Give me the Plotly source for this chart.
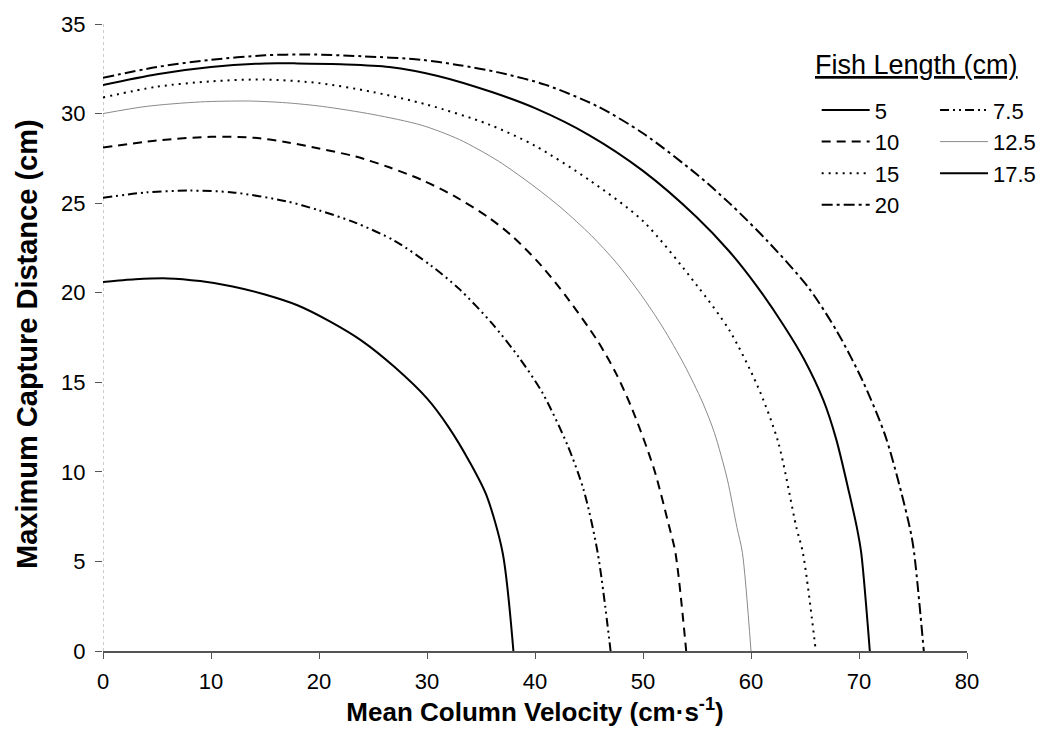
import plotly.graph_objects as go

# Fish length series (cm) -> curve points (velocity cm/s, max capture distance cm)
x_5 = [0, 3, 6, 9, 12, 15, 18, 21, 24, 27, 30, 32, 34, 35.5, 37, 38]
y_5 = [20.6, 20.75, 20.8, 20.65, 20.35, 19.9, 19.3, 18.4, 17.3, 15.85, 14.1, 12.5, 10.5, 8.7, 5.5, 0]

x_7_5 = [0, 4, 8, 12, 17, 20, 23.4, 27, 30.4, 33, 36, 38.5, 40.7, 43, 44.5, 45.8, 47]
y_7_5 = [25.3, 25.6, 25.7, 25.6, 25.1, 24.6, 23.9, 22.9, 21.5, 20.2, 18.3, 16.4, 14.4, 11.5, 9.0, 5.5, 0]

x_10 = [0, 5, 10, 14, 17, 20, 23.4, 26.5, 29.5, 32.5, 35.7, 38, 40.6, 43, 45.8, 47.5, 49, 51, 52.4, 53, 54]
y_10 = [28.1, 28.5, 28.7, 28.65, 28.4, 28.05, 27.6, 27.0, 26.3, 25.4, 24.2, 23.1, 21.5, 19.7, 17.3, 15.5, 13.5, 10.2, 7.0, 5.5, 0]

x_12_5 = [0, 4, 9, 13.5, 17, 20.3, 25, 29.5, 33, 36.6, 40, 42.5, 45.2, 47.5, 49.8, 51.8, 53.8, 55.5, 56.6, 57.8, 58.7, 59.2, 60]
y_12_5 = [30.0, 30.4, 30.65, 30.7, 30.6, 30.4, 29.95, 29.35, 28.55, 27.35, 25.9, 24.7, 23.2, 21.7, 19.9, 18.1, 16.0, 13.9, 12.2, 9.6, 6.9, 5.5, 0]

x_15 = [0, 5, 10, 15, 20, 25, 30, 35.7, 40, 45, 50, 55, 58, 60.6, 62.5, 64.2, 64.8, 66]
y_15 = [30.9, 31.5, 31.8, 31.9, 31.7, 31.2, 30.5, 29.4, 28.2, 26.3, 24.0, 20.4, 17.9, 14.8, 11.7, 6.9, 5.5, 0]

x_17_5 = [0, 5, 10, 15, 18, 22, 26.5, 31, 36, 40, 45, 50, 55, 58, 60.5, 63, 64.9, 66.7, 67.9, 69.1, 69.8, 70.2, 71]
y_17_5 = [31.6, 32.2, 32.6, 32.8, 32.8, 32.75, 32.6, 32.1, 31.2, 30.3, 28.8, 26.8, 24.2, 22.3, 20.4, 18.2, 16.3, 14.0, 11.8, 8.8, 6.9, 5.5, 0]

x_20 = [0, 5, 10, 15, 19, 24, 29.5, 33, 36.6, 41, 45.8, 50, 55, 58, 61.5, 65.3, 68, 70.4, 72.5, 74.7, 75.1, 76]
y_20 = [32.0, 32.6, 33.0, 33.25, 33.3, 33.2, 33.0, 32.7, 32.3, 31.6, 30.4, 28.9, 26.6, 25.0, 22.9, 20.3, 17.8, 15.0, 11.9, 6.9, 5.5, 0]

legend_labels = ["5", "7.5", "10", "12.5", "15", "17.5", "20"]
legend_title = "Fish Length (cm)"
y_title = "Maximum Capture Distance (cm)"
x_title = "Mean Column Velocity (cm·s<sup>-1</sup>)"
x_ticks = [0, 10, 20, 30, 40, 50, 60, 70, 80]
y_ticks = [0, 5, 10, 15, 20, 25, 30, 35]

series = [
    (x_5, y_5, dict(color="black", width=2, dash="solid"), "legend"),
    (x_7_5, y_7_5, dict(color="black", width=2, dash="9px,4px,2px,4px,2px,4px"), "legend2"),
    (x_10, y_10, dict(color="black", width=2, dash="9px,6px"), "legend"),
    (x_12_5, y_12_5, dict(color="#8a8a8a", width=1, dash="solid"), "legend2"),
    (x_15, y_15, dict(color="black", width=2, dash="2px,5px"), "legend"),
    (x_17_5, y_17_5, dict(color="black", width=2, dash="solid"), "legend2"),
    (x_20, y_20, dict(color="black", width=2, dash="11px,4px,3px,4px"), "legend"),
]

fig = go.Figure()
for (xs, ys, ln, lg), name in zip(series, legend_labels):
    fig.add_trace(go.Scatter(x=xs, y=ys, mode="lines", name=name, legend=lg,
                             line=dict(shape="spline", smoothing=0.8, **ln)))

# dotted y axis line
fig.add_shape(type="line", xref="x", yref="y", x0=0, x1=0, y0=0, y1=35,
              line=dict(color="#9a9a9a", width=1, dash="dot"), layer="below")

font_family = "Liberation Sans, Arial, sans-serif"

legend_common = dict(
    orientation="v", xanchor="left", yanchor="top", y=0.896,
    font=dict(size=22, family=font_family),
    bgcolor="rgba(0,0,0,0)", tracegroupgap=0, itemwidth=48,
)

fig.update_layout(
    width=1048, height=745,
    margin=dict(l=95, r=89, t=16, b=102),
    paper_bgcolor="white", plot_bgcolor="white",
    font=dict(family=font_family, color="black"),
    showlegend=True,
    legend=dict(x=0.826, **legend_common),
    legend2=dict(x=0.963, **legend_common),
    annotations=[
        dict(text="<span style='text-decoration:underline'>" + legend_title + "</span>",
             xref="paper", yref="paper", x=0.822, y=0.9346, xanchor="left", yanchor="middle",
             showarrow=False, font=dict(size=27, family=font_family, color="black")),
        dict(text="<b>" + y_title + "</b>", textangle=-90,
             xref="paper", yref="paper", x=-0.088, y=0.4896, xanchor="center", yanchor="middle",
             showarrow=False, font=dict(size=29, family=font_family, color="black")),
    ],
)

fig.update_xaxes(
    range=[0, 80], tickvals=x_ticks, ticktext=[str(v) for v in x_ticks],
    showgrid=False, zeroline=False,
    showline=True, linecolor="#555555", linewidth=2,
    ticks="outside", ticklen=6, tickcolor="#555555", tickwidth=1,
    tickfont=dict(size=22, family=font_family),
    ticklabelstandoff=4,
    title=dict(text="<b>" + x_title + "</b>",
               font=dict(size=26, family=font_family), standoff=8),
    automargin=False,
)
fig.update_yaxes(
    range=[0, 35], tickvals=y_ticks, ticktext=[str(v) for v in y_ticks],
    showgrid=False, zeroline=False, showline=False,
    ticks="outside", ticklen=7, tickcolor="#555555", tickwidth=1,
    tickfont=dict(size=22, family=font_family),
    ticklabelstandoff=5,
    automargin=False,
)

fig.write_html("out.html")
